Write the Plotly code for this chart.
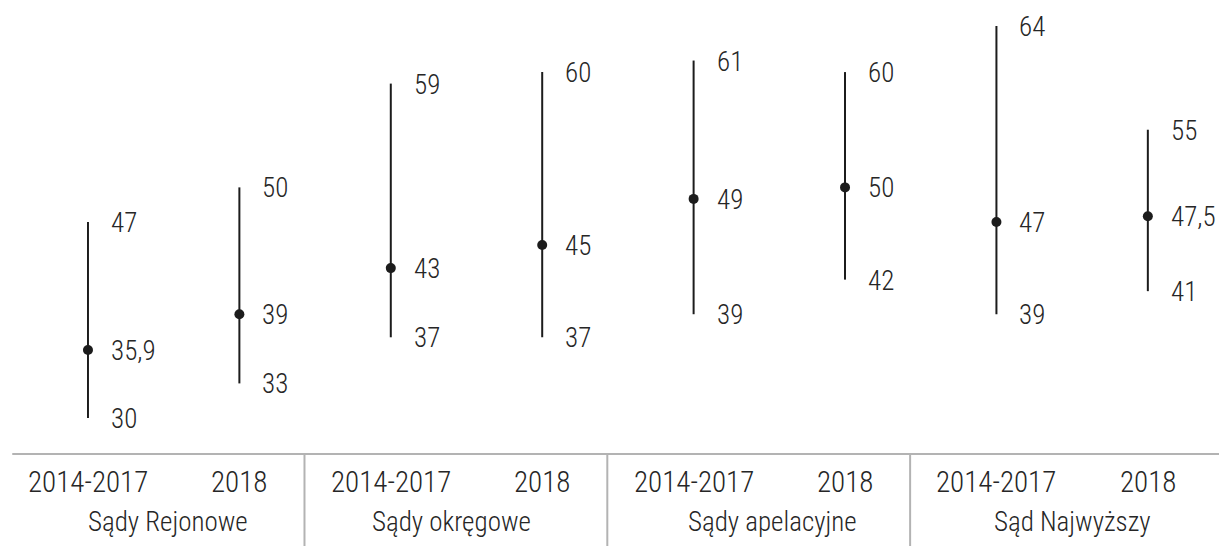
import plotly.graph_objects as go

groups = ["Sądy Rejonowe", "Sądy okręgowe", "Sądy apelacyjne", "Sąd Najwyższy"]
periods = ["2014-2017", "2018"]
mins = [30, 33, 37, 37, 39, 42, 39, 41]
medians = [35.9, 39, 43, 45, 49, 50, 47, 47.5]
maxs = [47, 50, 59, 60, 61, 60, 64, 55]

FONT = "'Roboto Condensed', 'DejaVu Sans Condensed', sans-serif"
TXT = "#262626"
LINE = "#1c1c1c"
GRID = "#b3b3b3"

def fmt(v):
    s = f"{v:g}"
    return s.replace(".", ",")

fig = go.Figure()
n = len(mins)
xs = list(range(n))

for i in xs:
    fig.add_trace(go.Scatter(x=[i, i], y=[mins[i], maxs[i]], mode="lines",
                             line=dict(color=LINE, width=2), hoverinfo="skip",
                             showlegend=False))
fig.add_trace(go.Scatter(x=xs, y=medians, mode="markers",
                         marker=dict(color=LINE, size=10), showlegend=False))

ann = []
for i in xs:
    for v in (maxs[i], medians[i], mins[i]):
        ann.append(dict(x=i, y=v, xref="x", yref="y", text=fmt(v), showarrow=False,
                        xanchor="left", yanchor="middle", xshift=21, yshift=-1,
                        font=dict(family=FONT, size=27, color=TXT, weight=300)))

AXIS_Y = 26.88
YEAR_Y = 24.45
GROUP_Y = 21.0
group_label_x = [0.53, 2.40, 4.52, 6.50]
for i in xs:
    ann.append(dict(x=i, y=YEAR_Y, xref="x", yref="y", text=periods[i % 2],
                    showarrow=False, xanchor="center", yanchor="middle",
                    font=dict(family=FONT, size=29, color=TXT, weight=300)))
for g, name in enumerate(groups):
    ann.append(dict(x=group_label_x[g], y=GROUP_Y, xref="x", yref="y", text=name,
                    showarrow=False, xanchor="center", yanchor="middle",
                    font=dict(family=FONT, size=27, color=TXT, weight=300)))

shapes = [dict(type="line", xref="x", yref="y", x0=-0.50, x1=7.47, y0=AXIS_Y, y1=AXIS_Y,
               line=dict(color=GRID, width=2))]
for g in range(1, len(groups)):
    sx = 2 * g - 0.57
    shapes.append(dict(type="line", xref="x", yref="y", x0=sx, x1=sx, y0=AXIS_Y, y1=18.9,
                       line=dict(color=GRID, width=2)))

fig.update_layout(
    width=1219, height=546,
    margin=dict(l=0, r=0, t=0, b=0),
    paper_bgcolor="white", plot_bgcolor="white",
    xaxis=dict(range=[-0.581, 7.470], visible=False, fixedrange=True),
    yaxis=dict(range=[18.90, 66.25], visible=False, fixedrange=True),
    annotations=ann, shapes=shapes, showlegend=False,
)

fig.write_html("out.html", config={"displayModeBar": False},
               post_script="document.body.style.margin='0';")
